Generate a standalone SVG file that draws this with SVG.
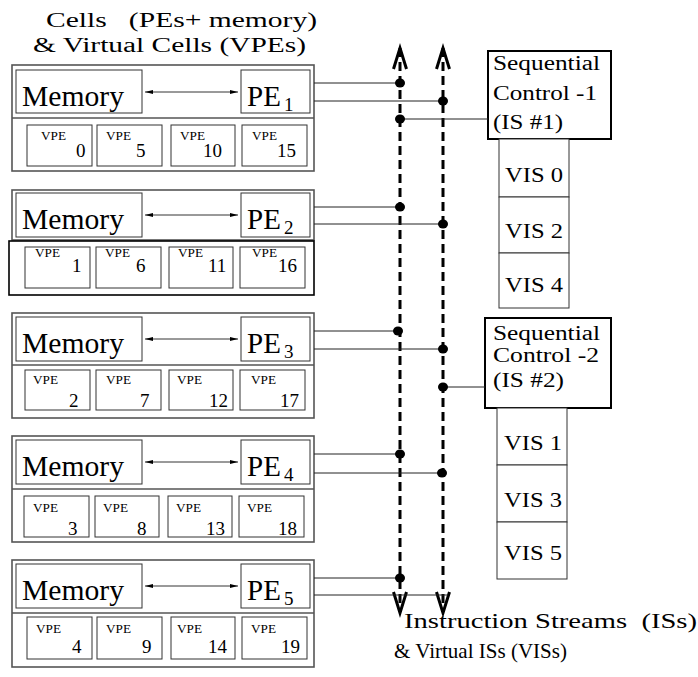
<svg xmlns="http://www.w3.org/2000/svg" width="698" height="677" viewBox="0 0 698 677">
<defs>
<style>
.t{font-family:"Liberation Serif","Times New Roman",serif;fill:#000;white-space:pre}
.title{font-size:20px}
.mem{font-size:29px}
.sub{font-size:19px}
.vpe{font-size:12.5px}
.sc{font-size:20px}
.vis{font-size:21px}
.cell{fill:none;stroke:#555;stroke-width:1.6}
.box{fill:#fff;stroke:#333;stroke-width:1}
.sbox{fill:#fff;stroke:#000;stroke-width:2}
.wire{stroke:#222;stroke-width:1;fill:none}
.mp{stroke:#000;stroke-width:0.8;fill:none;marker-start:url(#ah);marker-end:url(#ah)}
.bus{stroke:#000;stroke-width:3;stroke-dasharray:9 5;fill:none}
.head{stroke:#000;stroke-width:3;fill:none;stroke-linejoin:miter}
.dot{fill:#000}
</style>
<marker id="ah" viewBox="0 0 8 4" refX="8" refY="2" markerWidth="8" markerHeight="4" markerUnits="userSpaceOnUse" orient="auto-start-reverse">
<path d="M0,0 L8,2 L0,4 Z" fill="#000"/>
</marker>
</defs>

<g id="title-cells">
<text class="t title" x="46" y="27" textLength="271" lengthAdjust="spacingAndGlyphs">Cells   (PEs+ memory)</text>
<text class="t title" x="33" y="52" textLength="273" lengthAdjust="spacingAndGlyphs">&amp; Virtual Cells (VPEs)</text>
</g>

<!-- Cell 1 -->
<g id="cell1">
<rect class="cell" x="12" y="65" width="302" height="106"/>
<line class="cell" x1="12" y1="118" x2="314" y2="118"/>
<rect class="box" x="16" y="70" width="126" height="43"/>
<text class="t mem" x="22" y="106" textLength="102" lengthAdjust="spacingAndGlyphs">Memory</text>
<rect class="box" x="241" y="70" width="69" height="43"/>
<text class="t mem" x="247" y="106">PE</text><text class="t sub" x="284" y="111">1</text>
<line class="mp" x1="145" y1="92" x2="238" y2="92"/>
<rect class="box" x="27" y="125" width="65" height="41"/><text class="t vpe" x="41" y="140" textLength="25" lengthAdjust="spacingAndGlyphs">VPE</text><text class="t sub" x="76" y="157">0</text>
<rect class="box" x="97" y="125" width="65" height="41"/><text class="t vpe" x="106" y="140" textLength="25" lengthAdjust="spacingAndGlyphs">VPE</text><text class="t sub" x="136" y="157">5</text>
<rect class="box" x="171" y="125" width="64" height="41"/><text class="t vpe" x="180" y="140" textLength="25" lengthAdjust="spacingAndGlyphs">VPE</text><text class="t sub" x="203" y="157">10</text>
<rect class="box" x="242" y="125" width="65" height="41"/><text class="t vpe" x="252" y="140" textLength="25" lengthAdjust="spacingAndGlyphs">VPE</text><text class="t sub" x="277" y="157">15</text>
</g>

<!-- Cell 2 -->
<g id="cell2">
<rect class="cell" x="12" y="190" width="302" height="50"/>
<rect fill="none" stroke="#000" stroke-width="1.6" x="9" y="241" width="305" height="54"/>
<rect class="box" x="16" y="193" width="126" height="44"/>
<text class="t mem" x="22" y="229" textLength="102" lengthAdjust="spacingAndGlyphs">Memory</text>
<rect class="box" x="241" y="193" width="69" height="44"/>
<text class="t mem" x="247" y="229">PE</text><text class="t sub" x="284" y="234">2</text>
<line class="mp" x1="145" y1="215" x2="238" y2="215"/>
<rect class="box" x="25" y="247" width="65" height="41"/><text class="t vpe" x="35" y="257" textLength="25" lengthAdjust="spacingAndGlyphs">VPE</text><text class="t sub" x="72" y="272">1</text>
<rect class="box" x="96" y="247" width="65" height="41"/><text class="t vpe" x="105" y="257" textLength="25" lengthAdjust="spacingAndGlyphs">VPE</text><text class="t sub" x="136" y="272">6</text>
<rect class="box" x="169" y="247" width="64" height="41"/><text class="t vpe" x="178" y="257" textLength="25" lengthAdjust="spacingAndGlyphs">VPE</text><text class="t sub" x="208" y="272">11</text>
<rect class="box" x="240" y="247" width="65" height="41"/><text class="t vpe" x="252" y="257" textLength="25" lengthAdjust="spacingAndGlyphs">VPE</text><text class="t sub" x="278" y="272">16</text>
</g>

<!-- Cell 3 -->
<g id="cell3">
<rect class="cell" x="12" y="313" width="302" height="105"/>
<line class="cell" x1="12" y1="365" x2="314" y2="365"/>
<rect class="box" x="16" y="317" width="126" height="44"/>
<text class="t mem" x="22" y="353" textLength="102" lengthAdjust="spacingAndGlyphs">Memory</text>
<rect class="box" x="241" y="317" width="69" height="44"/>
<text class="t mem" x="247" y="353">PE</text><text class="t sub" x="284" y="358">3</text>
<line class="mp" x1="145" y1="339" x2="238" y2="339"/>
<rect class="box" x="25" y="370" width="65" height="40"/><text class="t vpe" x="33" y="384" textLength="25" lengthAdjust="spacingAndGlyphs">VPE</text><text class="t sub" x="69" y="407">2</text>
<rect class="box" x="96" y="370" width="65" height="40"/><text class="t vpe" x="106" y="384" textLength="25" lengthAdjust="spacingAndGlyphs">VPE</text><text class="t sub" x="140" y="407">7</text>
<rect class="box" x="169" y="370" width="64" height="40"/><text class="t vpe" x="177" y="384" textLength="25" lengthAdjust="spacingAndGlyphs">VPE</text><text class="t sub" x="209" y="407">12</text>
<rect class="box" x="240" y="370" width="65" height="40"/><text class="t vpe" x="251" y="384" textLength="25" lengthAdjust="spacingAndGlyphs">VPE</text><text class="t sub" x="280" y="407">17</text>
</g>

<!-- Cell 4 -->
<g id="cell4">
<rect class="cell" x="12" y="436" width="302" height="106"/>
<line class="cell" x1="12" y1="489" x2="314" y2="489"/>
<rect class="box" x="16" y="440" width="126" height="44"/>
<text class="t mem" x="22" y="476" textLength="102" lengthAdjust="spacingAndGlyphs">Memory</text>
<rect class="box" x="241" y="440" width="69" height="44"/>
<text class="t mem" x="247" y="476">PE</text><text class="t sub" x="284" y="481">4</text>
<line class="mp" x1="145" y1="462" x2="238" y2="462"/>
<rect class="box" x="24" y="496" width="65" height="41"/><text class="t vpe" x="33" y="512" textLength="25" lengthAdjust="spacingAndGlyphs">VPE</text><text class="t sub" x="68" y="535">3</text>
<rect class="box" x="95" y="496" width="64" height="41"/><text class="t vpe" x="103" y="512" textLength="25" lengthAdjust="spacingAndGlyphs">VPE</text><text class="t sub" x="137" y="535">8</text>
<rect class="box" x="168" y="496" width="64" height="41"/><text class="t vpe" x="176" y="512" textLength="25" lengthAdjust="spacingAndGlyphs">VPE</text><text class="t sub" x="206" y="535">13</text>
<rect class="box" x="239" y="496" width="65" height="41"/><text class="t vpe" x="247" y="512" textLength="25" lengthAdjust="spacingAndGlyphs">VPE</text><text class="t sub" x="278" y="535">18</text>
</g>

<!-- Cell 5 -->
<g id="cell5">
<rect class="cell" x="12" y="560" width="302" height="107"/>
<line class="cell" x1="12" y1="613" x2="314" y2="613"/>
<rect class="box" x="16" y="564" width="126" height="44"/>
<text class="t mem" x="22" y="600" textLength="102" lengthAdjust="spacingAndGlyphs">Memory</text>
<rect class="box" x="241" y="564" width="69" height="44"/>
<text class="t mem" x="247" y="600">PE</text><text class="t sub" x="284" y="605">5</text>
<line class="mp" x1="145" y1="586" x2="238" y2="586"/>
<rect class="box" x="27" y="617" width="65" height="42"/><text class="t vpe" x="36" y="633" textLength="25" lengthAdjust="spacingAndGlyphs">VPE</text><text class="t sub" x="72" y="653">4</text>
<rect class="box" x="97" y="617" width="65" height="42"/><text class="t vpe" x="106" y="633" textLength="25" lengthAdjust="spacingAndGlyphs">VPE</text><text class="t sub" x="142" y="653">9</text>
<rect class="box" x="171" y="617" width="64" height="42"/><text class="t vpe" x="177" y="633" textLength="25" lengthAdjust="spacingAndGlyphs">VPE</text><text class="t sub" x="208" y="653">14</text>
<rect class="box" x="242" y="617" width="65" height="42"/><text class="t vpe" x="251" y="633" textLength="25" lengthAdjust="spacingAndGlyphs">VPE</text><text class="t sub" x="281" y="653">19</text>
</g>

<!-- Sequential control 1 + VIS column -->
<g id="seq1">
<rect class="sbox" x="488" y="51" width="123" height="88"/>
<text class="t sc" x="493" y="70" textLength="107" lengthAdjust="spacingAndGlyphs">Sequential</text>
<text class="t sc" x="493" y="100" textLength="104" lengthAdjust="spacingAndGlyphs">Control -1</text>
<text class="t sc" x="493" y="129" textLength="70" lengthAdjust="spacingAndGlyphs">(IS #1)</text>
</g>
<g id="vis-col1">
<rect class="box" x="499" y="139" width="70" height="58"/>
<text class="t vis" x="505" y="182" textLength="58" lengthAdjust="spacingAndGlyphs">VIS 0</text>
<rect class="box" x="499" y="197" width="70" height="56"/>
<text class="t vis" x="505" y="238" textLength="58" lengthAdjust="spacingAndGlyphs">VIS 2</text>
<rect class="box" x="499" y="253" width="70" height="55"/>
<text class="t vis" x="505" y="292" textLength="58" lengthAdjust="spacingAndGlyphs">VIS 4</text>
</g>

<!-- Sequential control 2 + VIS column -->
<g id="seq2">
<rect class="sbox" x="485" y="318" width="126" height="90"/>
<text class="t sc" x="493" y="340" textLength="107" lengthAdjust="spacingAndGlyphs">Sequential</text>
<text class="t sc" x="493" y="362" textLength="106" lengthAdjust="spacingAndGlyphs">Control -2</text>
<text class="t sc" x="493" y="387" textLength="71" lengthAdjust="spacingAndGlyphs">(IS #2)</text>
</g>
<g id="vis-col2">
<rect class="box" x="497" y="408" width="70" height="57"/>
<text class="t vis" x="504" y="450" textLength="58" lengthAdjust="spacingAndGlyphs">VIS 1</text>
<rect class="box" x="497" y="465" width="70" height="57"/>
<text class="t vis" x="504" y="507" textLength="58" lengthAdjust="spacingAndGlyphs">VIS 3</text>
<rect class="box" x="497" y="522" width="70" height="57"/>
<text class="t vis" x="504" y="560" textLength="58" lengthAdjust="spacingAndGlyphs">VIS 5</text>
</g>

<g id="title-is">
<text class="t vis" x="404" y="628" textLength="293" lengthAdjust="spacingAndGlyphs">Instruction Streams  (ISs)</text>
<text class="t vis" x="394" y="658" textLength="173" lengthAdjust="spacingAndGlyphs">&amp; Virtual ISs (VISs)</text>
</g>

<!-- Connectors -->
<g id="connectors">
<line class="bus" x1="400" y1="48" x2="400" y2="612"/>
<line class="bus" x1="443" y1="48" x2="443" y2="612"/>
<polyline class="head" points="393.5,69 400,48 406.5,69"/>
<polyline class="head" points="436.5,69 443,48 449.5,69"/>
<polyline class="head" points="393.5,592 400,613 406.5,592"/>
<polyline class="head" points="436.5,592 443,613 449.5,592"/>

<line class="wire" x1="314" y1="83" x2="400" y2="83"/>
<line class="wire" x1="314" y1="101" x2="443" y2="101"/>
<line class="wire" x1="400" y1="119" x2="488" y2="119"/>
<line class="wire" x1="314" y1="207" x2="400" y2="207"/>
<line class="wire" x1="314" y1="224" x2="443" y2="224"/>
<line class="wire" x1="314" y1="331" x2="400" y2="331"/>
<line class="wire" x1="314" y1="349" x2="443" y2="349"/>
<line class="wire" x1="443" y1="387" x2="485" y2="387"/>
<line class="wire" x1="314" y1="454" x2="400" y2="454"/>
<line class="wire" x1="314" y1="473" x2="443" y2="473"/>
<line class="wire" x1="314" y1="578" x2="400" y2="578"/>
<line class="wire" x1="314" y1="595" x2="448" y2="595"/>

<ellipse class="dot" cx="400" cy="83" rx="5" ry="4.5"/>
<ellipse class="dot" cx="443" cy="101" rx="5" ry="4.5"/>
<ellipse class="dot" cx="400" cy="119" rx="5" ry="4.5"/>
<ellipse class="dot" cx="400" cy="207" rx="5" ry="4.5"/>
<ellipse class="dot" cx="443" cy="224" rx="5" ry="4.5"/>
<ellipse class="dot" cx="398" cy="331" rx="5" ry="4.5"/>
<ellipse class="dot" cx="443" cy="349" rx="5" ry="4.5"/>
<ellipse class="dot" cx="443" cy="387" rx="5" ry="4.5"/>
<ellipse class="dot" cx="400" cy="454" rx="5" ry="4.5"/>
<ellipse class="dot" cx="442" cy="473" rx="5" ry="4.5"/>
<ellipse class="dot" cx="400" cy="578" rx="5" ry="4.5"/>
</g>
</svg>
